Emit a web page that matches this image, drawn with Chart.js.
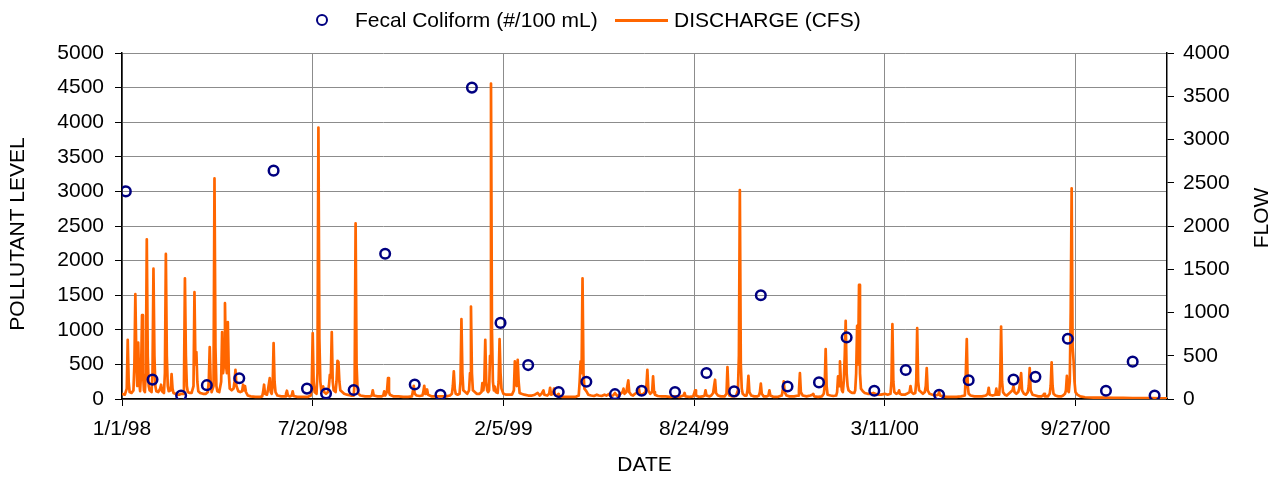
<!DOCTYPE html>
<html>
<head>
<meta charset="utf-8">
<script src="https://cdn.jsdelivr.net/npm/chart.js@4/dist/chart.umd.min.js"></script>
<style>
  body { margin: 0; background: #fff; }
  #wrap { position: relative; width: 1284px; height: 481px; font-family: "Liberation Sans", Arial, sans-serif; }
  #legend span { position: absolute; }
  .txt { font-size: 21px; line-height: 24px; top: 8px; color: #000; white-space: nowrap; }
</style>
</head>
<body>
<div id="wrap">
  <canvas id="chart" width="1284" height="481"></canvas>
  <div id="legend">
    <span style="left:316px;top:14px;width:12px;height:12px;border:2.6px solid #000080;border-radius:50%;box-sizing:border-box;"></span>
    <span class="txt" style="left:355px;">Fecal Coliform (#/100 mL)</span>
    <span style="left:615px;top:19px;width:53px;height:3px;background:#FF6600;"></span>
    <span class="txt" style="left:674px;">DISCHARGE (CFS)</span>
  </div>
</div>
<script>
// eixo x em dias desde 1/1/98 (1/1/01 = dia 1096)
var tickDays = [0, 200, 400, 600, 800, 1000];
var tickLabels = ["1/1/98", "7/20/98", "2/5/99", "8/24/99", "3/11/00", "9/27/00"];

// amostras de coliformes fecais (#/100 mL)
var sampleDays = [4, 32, 62, 89, 123, 159, 194, 214, 243, 276, 307, 334, 367, 397, 426, 458, 487, 517,
    545, 580, 613, 642, 670, 698, 731, 760, 789, 822, 857, 888, 935, 958, 992, 1032, 1060, 1083];
var fecalCount = [3000, 280, 50, 200, 300, 3300, 150, 80, 130, 2100, 210, 60, 4500, 1100, 490, 100, 250, 70,
    120, 100, 375, 110, 1500, 180, 240, 890, 120, 420, 60, 270, 280, 320, 870, 120, 540, 50];

// vazao diaria (CFS)
var flowDays = [0, 3, 5, 6, 7, 8, 10, 12, 13, 14, 15, 16, 17, 18, 19, 20, 21, 22, 23, 24, 25, 26, 27, 28, 29, 31,
    32, 33, 34, 35, 36, 38, 40, 41, 42, 44, 45, 46, 47, 48, 49, 51, 52, 53, 54, 56, 58, 60, 62, 64, 65, 66, 67, 68,
    69, 71, 73, 75, 76, 77, 78, 79, 80, 82, 85, 88, 90, 91, 92, 93, 94, 96, 97, 98, 99, 100, 102, 104, 105, 106,
    107, 108, 109, 110, 111, 112, 113, 115, 117, 118, 119, 120, 122, 124, 126, 127, 128, 129, 130, 132, 135, 140,
    145, 147, 148, 149, 150, 152, 153, 155, 156, 157, 158, 159, 160, 161, 163, 167, 171, 172, 173, 174, 176, 178,
    179, 180, 184, 190, 195, 198, 199, 200, 201, 202, 204, 205, 206, 207, 208, 209, 211, 212, 214, 216, 217, 218,
    219, 220, 221, 222, 224, 225, 226, 227, 228, 229, 231, 233, 236, 240, 243, 244, 245, 246, 247, 248, 250, 255,
    260, 262, 263, 264, 268, 272, 274, 275, 276, 277, 278, 279, 280, 281, 285, 290, 295, 300, 304, 305, 306, 307,
    309, 312, 315, 316, 317, 318, 319, 320, 321, 325, 330, 335, 340, 344, 346, 347, 348, 349, 350, 352, 354, 355,
    356, 357, 358, 360, 362, 364, 365, 366, 367, 368, 370, 372, 375, 377, 378, 379, 380, 381, 382, 383, 384, 385,
    386, 387, 388, 389, 390, 391, 392, 394, 395, 396, 397, 398, 400, 403, 406, 409, 411, 412, 413, 414, 415, 416,
    417, 419, 422, 426, 430, 433, 436, 438, 440, 442, 443, 446, 448, 449, 450, 452, 453, 454, 456, 458, 459, 462,
    470, 476, 479, 480, 481, 482, 483, 484, 485, 487, 489, 492, 495, 498, 500, 503, 506, 508, 511, 512, 515, 517,
    519, 521, 523, 525, 526, 527, 529, 530, 531, 532, 534, 536, 538, 541, 542, 543, 545, 547, 549, 550, 551, 552,
    554, 556, 557, 558, 559, 562, 566, 570, 575, 580, 585, 589, 590, 591, 595, 599, 600, 601, 602, 605, 609, 611,
    612, 613, 616, 618, 620, 621, 622, 623, 625, 628, 632, 634, 635, 636, 637, 640, 644, 646, 647, 648, 649, 650,
    651, 653, 655, 656, 657, 658, 660, 663, 666, 668, 669, 670, 671, 673, 676, 678, 679, 680, 683, 688, 692, 693,
    694, 695, 697, 700, 705, 709, 710, 711, 712, 714, 718, 722, 724, 725, 726, 730, 734, 736, 737, 738, 739, 740,
    743, 746, 749, 750, 751, 752, 753, 754, 755, 756, 757, 758, 759, 760, 761, 762, 764, 766, 768, 769, 770, 771,
    772, 773, 774, 775, 777, 779, 782, 785, 788, 790, 793, 796, 800, 803, 806, 807, 808, 809, 810, 812, 814, 815,
    816, 818, 821, 823, 826, 827, 828, 830, 832, 833, 834, 835, 836, 838, 840, 842, 843, 844, 845, 847, 850, 853,
    856, 857, 858, 861, 865, 870, 875, 880, 884, 885, 886, 887, 888, 890, 894, 898, 902, 906, 908, 909, 910, 913,
    916, 917, 918, 920, 921, 922, 923, 924, 926, 928, 930, 932, 934, 935, 936, 938, 940, 941, 942, 943, 944, 946,
    948, 950, 951, 952, 953, 955, 958, 961, 964, 966, 967, 968, 971, 973, 974, 975, 976, 977, 979, 982, 985, 987,
    989, 990, 991, 992, 993, 994, 995, 996, 997, 998, 999, 1000, 1002, 1005, 1010, 1020, 1030, 1040, 1050, 1060,
    1070, 1080, 1090, 1096];
var flowCfs = [60, 50, 120, 684, 200, 80, 70, 100, 400, 1212, 500, 150, 653, 200, 90, 300, 969, 300, 100, 80, 300,
    1846, 500, 150, 100, 80, 300, 1507, 500, 150, 90, 80, 120, 165, 90, 70, 300, 1677, 500, 150, 90, 100, 288, 120,
    70, 60, 50, 50, 60, 60, 200, 1396, 500, 150, 80, 70, 70, 150, 1235, 400, 542, 200, 90, 70, 60, 60, 80, 200, 600,
    200, 80, 150, 2550, 600, 150, 90, 80, 200, 773, 300, 400, 1108, 400, 300, 889, 300, 120, 100, 120, 200, 338,
    150, 90, 80, 90, 165, 100, 150, 80, 40, 30, 25, 25, 30, 80, 165, 60, 50, 100, 242, 80, 60, 150, 646, 200, 80,
    40, 30, 30, 60, 96, 40, 30, 40, 88, 35, 25, 25, 25, 40, 150, 761, 200, 80, 60, 300, 3139, 700, 200, 100, 145,
    80, 60, 80, 150, 280, 250, 773, 200, 100, 80, 200, 442, 430, 200, 100, 80, 60, 50, 40, 40, 200, 2031, 400, 120,
    60, 40, 30, 30, 40, 100, 40, 30, 30, 40, 88, 40, 60, 100, 242, 80, 50, 30, 30, 25, 25, 30, 80, 153, 60, 40, 35,
    40, 80, 153, 60, 60, 110, 50, 30, 30, 30, 30, 40, 60, 150, 319, 120, 60, 50, 60, 200, 923, 300, 100, 80, 60,
    100, 300, 1069, 300, 100, 80, 60, 60, 80, 185, 100, 200, 684, 200, 100, 80, 100, 500, 3647, 800, 200, 100, 145,
    80, 70, 200, 692, 300, 120, 60, 50, 50, 50, 100, 434, 200, 150, 454, 200, 70, 60, 50, 40, 40, 50, 70, 40, 60,
    100, 50, 40, 60, 130, 50, 60, 120, 50, 40, 60, 30, 25, 25, 25, 40, 200, 434, 300, 1396, 300, 120, 90, 50, 40,
    35, 50, 40, 35, 50, 40, 60, 35, 40, 70, 40, 40, 60, 80, 120, 60, 80, 150, 215, 80, 50, 40, 60, 80, 130, 60, 50,
    60, 80, 150, 338, 100, 60, 80, 261, 80, 50, 35, 30, 30, 25, 30, 25, 40, 70, 30, 25, 30, 60, 100, 40, 25, 30, 40,
    100, 40, 30, 40, 70, 150, 223, 70, 40, 30, 30, 60, 369, 100, 40, 30, 35, 100, 500, 2415, 400, 120, 60, 40, 40,
    100, 269, 80, 40, 30, 30, 40, 80, 177, 60, 30, 30, 40, 100, 40, 25, 25, 40, 100, 203, 80, 40, 30, 30, 40, 100,
    300, 80, 40, 30, 40, 50, 60, 30, 25, 30, 60, 150, 577, 150, 50, 40, 35, 40, 80, 261, 150, 434, 200, 100, 80, 200,
    500, 903, 300, 150, 100, 80, 70, 70, 100, 300, 846, 400, 1319, 300, 120, 90, 70, 60, 60, 70, 60, 50, 50, 60, 50,
    60, 200, 865, 200, 80, 60, 70, 100, 60, 50, 50, 60, 80, 150, 80, 60, 70, 200, 819, 200, 100, 80, 60, 80, 150,
    357, 100, 60, 50, 40, 50, 80, 40, 30, 25, 25, 25, 30, 40, 300, 692, 150, 60, 40, 30, 30, 30, 40, 60, 130, 50,
    40, 50, 120, 50, 50, 200, 838, 200, 80, 50, 40, 60, 80, 100, 150, 80, 60, 80, 120, 200, 300, 100, 60, 50, 80,
    150, 357, 100, 50, 40, 30, 30, 40, 60, 30, 30, 60, 150, 423, 150, 60, 40, 30, 30, 40, 60, 100, 269, 100, 80, 200,
    1000, 2435, 600, 442, 200, 80, 50, 30, 20, 15, 15, 12, 12, 10, 10, 10, 8, 8];

var fonte = { family: "'Liberation Sans', Arial, sans-serif", size: 21 };
var cinza = "#8c8c8c";

function montarPontos(xs, ys) {
    var pts = [];
    for (var i = 0; i < xs.length; i++) {
        pts.push({ x: xs[i], y: ys[i] });
    }
    return pts;
}

// titulos dos eixos y, os dois lidos de baixo para cima como no original
var titulosVerticais = {
    id: "titulosVerticais",
    afterDraw: function (chart) {
        var ctx = chart.ctx;
        function escrever(texto, x, y) {
            ctx.save();
            ctx.translate(x, y);
            ctx.rotate(-Math.PI / 2);
            ctx.font = "21px 'Liberation Sans', Arial, sans-serif";
            ctx.fillStyle = "#000";
            ctx.textAlign = "center";
            ctx.textBaseline = "middle";
            ctx.fillText(texto, 0, 0);
            ctx.restore();
        }
        escrever("POLLUTANT LEVEL", 18, 234);
        escrever("FLOW", 1262, 218);
    }
};

// numeros sem separador de milhar
function semVirgula(v) { return String(v); }

var ctx = document.getElementById("chart");
var grafico = new Chart(ctx, {
    type: "scatter",
    data: {
        datasets: [{
                label: "Fecal Coliform (#/100 mL)",
                data: montarPontos(sampleDays, fecalCount),
                yAxisID: "y",
                showLine: false,
                pointStyle: "circle",
                pointRadius: 4.8,
                pointHoverRadius: 4.8,
                pointBorderWidth: 2.5,
                pointBackgroundColor: "rgba(0,0,0,0)",
                pointBorderColor: "#000080"
            }, {
                label: "DISCHARGE (CFS)",
                type: "line",
                data: montarPontos(flowDays, flowCfs),
                yAxisID: "y2",
                borderColor: "#FF6600",
                borderWidth: 2.7,
                borderJoinStyle: "round",
                pointRadius: 0,
                tension: 0
            }]
    },
    options: {
        responsive: false,
        animation: false,
        layout: { padding: { top: 53, left: 0, right: 0, bottom: 0 } },
        plugins: { legend: { display: false }, tooltip: { enabled: false } },
        scales: {
            x: {
                type: "linear",
                min: 0,
                max: 1096,
                afterBuildTicks: function (s) { s.ticks = tickDays.map(function (v) { return { value: v }; }); },
                afterFit: function (s) { s.height = 82; },
                ticks: {
                    font: fonte,
                    color: "#000",
                    padding: 11,
                    maxRotation: 0,
                    callback: function (v) { return tickLabels[tickDays.indexOf(v)]; }
                },
                grid: { color: cinza, tickColor: "#000", tickLength: 7 },
                border: { color: "#000", width: 1.5 },
                title: { display: true, text: "DATE", font: fonte, color: "#000", padding: { top: 0, bottom: 3 } }
            },
            y: {
                position: "left",
                min: 0,
                max: 5000,
                afterFit: function (s) { s.width = 122; },
                ticks: { stepSize: 500, font: fonte, color: "#000", padding: 11, callback: semVirgula },
                grid: { color: cinza, tickColor: "#000", tickLength: 7 },
                border: { color: "#000", width: 1.5 }
            },
            y2: {
                position: "right",
                min: 0,
                max: 4000,
                afterFit: function (s) { s.width = 117; },
                ticks: { stepSize: 500, font: fonte, color: "#000", padding: 9, callback: semVirgula },
                grid: { drawOnChartArea: false, tickColor: "#000", tickLength: 7 },
                border: { color: "#000", width: 1.5 }
            }
        }
    },
    plugins: [titulosVerticais]
});
</script>
</body>
</html>
